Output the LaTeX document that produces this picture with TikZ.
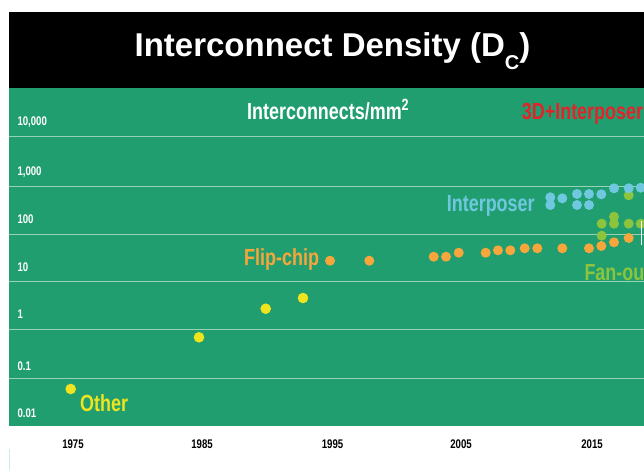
\documentclass[tikz,border=0pt]{standalone}
\usepackage{fontspec}
\setmainfont{Liberation Sans}
\newfontfamily\condfont{Liberation Sans}[FakeStretch=0.77]
\usepackage{tikz}

\definecolor{chartgreen}{RGB}{32,158,112}
\definecolor{gridgreen}{RGB}{150,210,182}
\definecolor{dotyellow}{RGB}{240,228,30}
\definecolor{dotorange}{RGB}{247,166,60}
\definecolor{dotblue}{RGB}{112,200,224}
\definecolor{dotlime}{RGB}{141,196,62}
\definecolor{labelred}{RGB}{226,36,42}
\definecolor{edgecyan}{RGB}{205,236,242}

\begin{document}
\begin{tikzpicture}[x=1pt, y=-1pt,
    gridline/.style={gridgreen, line width=1pt},
    serieslabel/.style={inner sep=0pt, anchor=base west, font=\condfont\bfseries\fontsize{23.3}{24}\selectfont},
    axislabel/.style={inner sep=0pt, font=\condfont\bfseries\fontsize{12.5}{13}\selectfont}]
    \useasboundingbox (0,0) rectangle (644,470);
    \clip (0,0) rectangle (644,470);

    % header and plot area
    \fill[black] (9,11.7) rectangle (644,88.3);
    \fill[chartgreen] (9,88.3) rectangle (644,426);
    \draw[edgecyan, line width=1pt] (9,449) -- (9,470);
    \foreach \y in {136.7,186.7,234,281.7,329,378}
        \draw[gridline] (9,\y) -- (644,\y);

    \node[inner sep=0pt, anchor=base, white, font=\bfseries\fontsize{33}{36}\selectfont] (title) at (332.5,56.7)
        {Interconnect Density (D\raisebox{-13pt}{\fontsize{20}{22}\selectfont C})};

    % value and year labels
    \foreach \v/\y [count=\i] in {{10,000}/126, {1,000}/176, 100/223.3, 10/271, 1/318.3, 0.1/370.3, 0.01/417}
        \node[axislabel, anchor=base west, white] (value-\i) at (17.3,\y) {\v};
    \foreach \yr/\x in {1975/73, 1985/202, 1995/332.5, 2005/461, 2015/592}
        \node[axislabel, anchor=base, black] (year-\yr) at (\x,448) {\yr};

    % data points
    \foreach \x/\y in {628.7/195.3, 614/216.7, 601.7/223.7, 614/223.7, 628.7/223.7, 640.7/223.7, 601.7/235.7}
        \fill[dotlime] (\x,\y) circle (5pt);
    \foreach \x/\y in {550.3/197.3, 550.3/205, 562.3/198.3, 577/194, 577/205, 589/194, 589/205,
                       601.3/194.3, 614/188.3, 628.7/188.3, 640.7/187.7}
        \fill[dotblue] (\x,\y) circle (5pt);
    \foreach \x/\y in {330/260.7, 369.3/260.7, 433.7/256.7, 446/256.7, 458.7/252.7, 485.7/252.7, 498/250.3,
                       510.3/250.3, 524.7/248.3, 537.3/248.3, 562.3/248.3, 589/248.3, 601.3/246, 614/242.3, 628.7/238}
        \fill[dotorange] (\x,\y) circle (5pt);
    \foreach \x/\y in {70.7/389, 199/337.3, 265.7/308.7, 303/298}
        \fill[dotyellow] (\x,\y) circle (5.3pt);
    \draw[white, line width=1.5pt] (641.5,221) -- (641.5,245);

    % series labels
    \node[serieslabel, white] (unit) at (247,120) {Interconnects/mm\textsuperscript{2}};
    \node[serieslabel, labelred] (stacked) at (521.7,120) {3D+Interposer};
    \node[serieslabel, dotblue] (interposer) at (446.7,211.7) {Interposer};
    \node[serieslabel, dotorange] (flipchip) at (244,265) {Flip-chip};
    \node[serieslabel, dotlime] (fanout) at (584.3,280) {Fan-out};
    \node[serieslabel, dotyellow] (other) at (80,411.7) {Other};
\end{tikzpicture}
\end{document}
